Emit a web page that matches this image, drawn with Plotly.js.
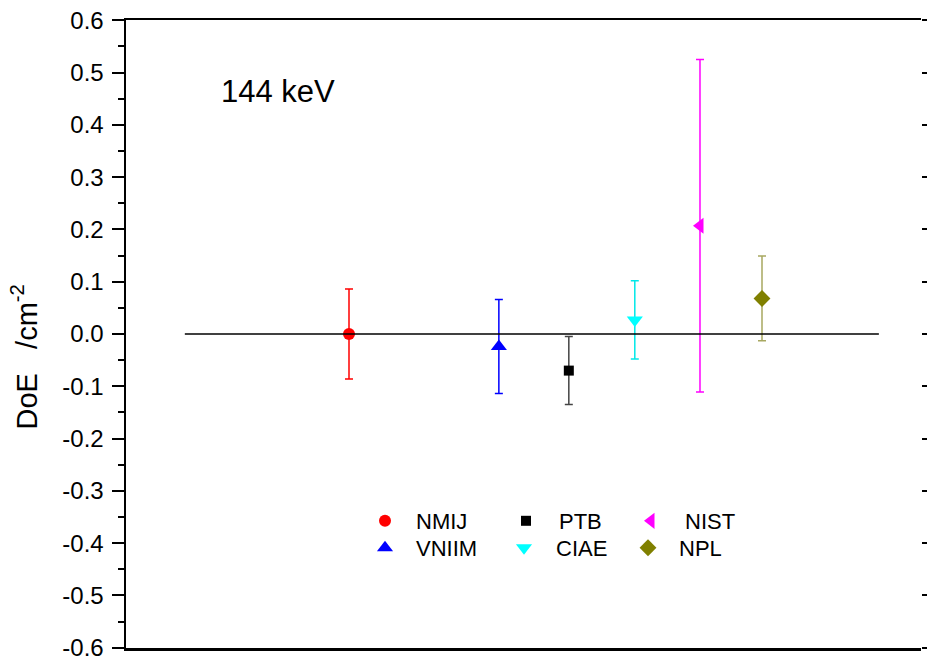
<!DOCTYPE html>
<html>
<head>
<meta charset="utf-8">
<script src="https://cdn.plot.ly/plotly-3.0.1.min.js"></script>
<style>html,body{margin:0;padding:0;background:#fff;}#chart{width:927px;height:660px;}</style>
</head>
<body>
<div id="chart"></div>
<script>
// ---- data ----
var labs = ['NMIJ', 'VNIIM', 'PTB', 'CIAE', 'NIST', 'NPL'];
var xpos = [2.805, 4.69, 5.57, 6.40, 7.22, 8.00];
var doe  = [0.000, -0.024, -0.070, 0.027, 0.207, 0.068];
var unc  = [0.086, 0.090, 0.065, 0.075, 0.318, 0.081];
var zeroX = [0.74, 9.47];
var zeroY = [0, 0];
var yTickVals = [-0.6, -0.5, -0.4, -0.3, -0.2, -0.1, 0.0, 0.1, 0.2, 0.3, 0.4, 0.5, 0.6];
var yTickText = ['-0.6', '-0.5', '-0.4', '-0.3', '-0.2', '-0.1', '0.0', '0.1', '0.2', '0.3', '0.4', '0.5', '0.6'];
var yMinorVals = [-0.55, -0.45, -0.35, -0.25, -0.15, -0.05, 0.05, 0.15, 0.25, 0.35, 0.45, 0.55];
var energyLabel = '144 keV';
var yTitle = 'DoE\u00a0\u00a0\u00a0/cm<sup>-2</sup>';

// ---- styles ----
var symbols = ['circle', 'triangle-up', 'square', 'triangle-down', 'triangle-left', 'diamond'];
var mcolors = ['#ff0000', '#0000ff', '#000000', '#00ffff', '#ff00ff', '#808000'];
var ecolors = ['#ff0000', '#0000ff', '#444444', '#00e8e8', '#ff00ff', '#a8a860'];
var msizes  = [12, 14, 10, 14, 14, 13];
var legendIds = ['legend', 'legend2', 'legend3', 'legend4', 'legend5', 'legend6'];
// legend placement: [left px, row, itemwidth]
var legLeft = [354, 354, 493, 492, 617, 617];
var legRow  = [0, 1, 0, 1, 0, 1];
var legIW   = [52, 52, 56, 54, 58, 52];

var traces = [];
traces.push({
  x: zeroX, y: zeroY, yaxis: 'y2', mode: 'lines', showlegend: false,
  line: {color: '#000', width: 1.5}, hoverinfo: 'skip'
});
for (var i = 0; i < labs.length; i++) {
  traces.push({
    x: [xpos[i]], y: [doe[i]], name: labs[i], mode: 'markers', type: 'scatter',
    legend: legendIds[i],
    marker: {symbol: symbols[i], color: mcolors[i], size: msizes[i], line: {width: 0}},
    error_y: {type: 'data', array: [unc[i]], visible: true, color: ecolors[i], thickness: 1.5, width: 4}
  });
}

var font = {family: 'Liberation Sans, Arial, sans-serif', color: '#000'};
var plotL = 126, plotB = 648, plotW = 795, plotH = 628;
var rowY = [521, 548];

var layout = {
  width: 927, height: 660,
  margin: {l: 126, r: 6, t: 20, b: 12, pad: 0},
  paper_bgcolor: '#fff', plot_bgcolor: '#fff',
  font: font,
  showlegend: true,
  xaxis: {
    range: [0, 10], showgrid: false, zeroline: false, showticklabels: false, ticks: '',
    showline: true, linecolor: '#000', linewidth: 2.5, mirror: true
  },
  yaxis: {
    range: [-0.6005, 0.6005], showgrid: false, zeroline: false,
    tickmode: 'array', tickvals: yTickVals, ticktext: yTickText,
    ticks: 'outside', ticklen: 12, tickwidth: 2, tickcolor: '#000',
    ticklabeloverflow: 'allow', ticklabelstandoff: 3,
    tickfont: {family: font.family, size: 24, color: '#000'},
    showline: true, linecolor: '#000', linewidth: 2.5,
    minor: {tickmode: 'array', tickvals: yMinorVals, ticks: 'outside', ticklen: 6, tickwidth: 2, tickcolor: '#000'}
  },
  yaxis2: {
    range: [-0.6005, 0.6005], overlaying: 'y', side: 'right', showgrid: false, zeroline: false,
    showticklabels: false, showline: false,
    tickmode: 'array', tickvals: yTickVals,
    ticks: 'outside', ticklen: 8, tickwidth: 2, tickcolor: '#000'
  },
  annotations: [{
    text: energyLabel, xref: 'paper', yref: 'paper', x: 0.1175, y: 0.886,
    xanchor: 'left', yanchor: 'middle', showarrow: false,
    font: {family: font.family, size: 31, color: '#000'}
  }, {
    text: yTitle, xref: 'paper', yref: 'paper', x: (24 - plotL) / plotW, y: (plotB - 432) / plotH,
    xanchor: 'center', yanchor: 'bottom', textangle: -90, showarrow: false,
    font: {family: font.family, size: 29, color: '#000'}
  }]
};
for (var j = 0; j < legendIds.length; j++) {
  layout[legendIds[j]] = {
    x: (legLeft[j] - plotL) / plotW, y: (plotB - rowY[legRow[j]]) / plotH,
    xanchor: 'left', yanchor: 'middle', orientation: 'v',
    bgcolor: 'rgba(0,0,0,0)', borderwidth: 0, itemwidth: legIW[j],
    font: {family: font.family, size: 22, color: '#000'}
  };
}

Plotly.newPlot('chart', traces, layout, {displayModeBar: false, staticPlot: true});
</script>
</body>
</html>
